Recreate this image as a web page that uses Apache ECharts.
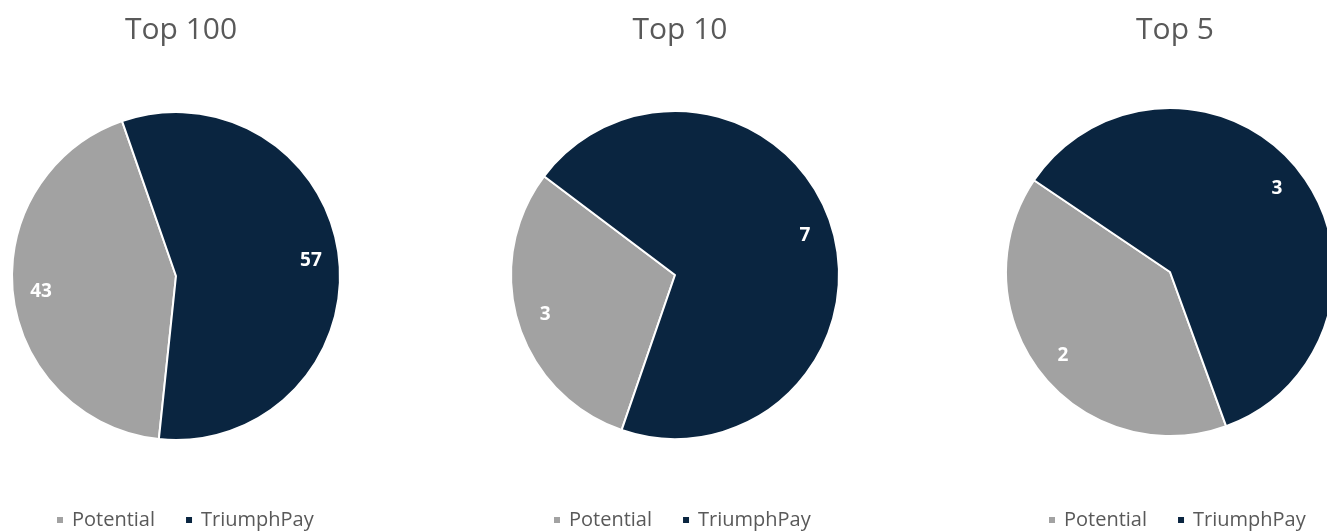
<!DOCTYPE html>
<html>
<head>
<meta charset="utf-8">
<script src="https://cdn.jsdelivr.net/npm/echarts@6/dist/echarts.min.js"></script>
<style>
html,body{margin:0;padding:0;background:#fff;}
#c{width:1327px;height:531px;}
</style>
</head>
<body>
<div id="c"></div>
<script>
const categories = ['Potential', 'TriumphPay'];
const chartTitles = ['Top 100', 'Top 10', 'Top 5'];
const top100Values = [43, 57];
const top10Values = [3, 7];
const top5Values = [2, 3];

const colors = ['#a2a2a2', '#0a2540'];
const centers = [[176, 276], [675, 275], [1170, 272]];
const startAngles = [-96, -109, -70];
const legendLefts = [50, 547, 1042];
const R = 164;
const font = '"Open Sans", "Liberation Sans", sans-serif';

const allValues = [top100Values, top10Values, top5Values];
const series = [];
allValues.forEach((vals, i) => {
  const data = categories.map((n, k) => ({ name: n, value: vals[k], itemStyle: { color: colors[k] } }));
  series.push({
    type: 'pie',
    center: centers[i],
    radius: [0, R],
    startAngle: startAngles[i],
    clockwise: true,
    data: data,
    label: { show: false },
    labelLine: { show: false },
    itemStyle: { borderColor: '#ffffff', borderWidth: 2 },
    emphasis: { disabled: true },
    silent: true
  });
});
allValues.forEach((vals, i) => {
  const data = categories.map((n, k) => ({ name: n, value: vals[k] }));
  series.push({
    type: 'pie',
    center: centers[i],
    radius: [R * 0.62, R],
    startAngle: startAngles[i],
    clockwise: true,
    data: data,
    itemStyle: { color: 'rgba(0,0,0,0)', borderWidth: 0 },
    label: {
      show: true, position: 'inside', formatter: '{c}',
      color: '#ffffff', fontWeight: 'bold', fontSize: 19, fontFamily: font
    },
    labelLine: { show: false },
    emphasis: { disabled: true },
    silent: true
  });
});

const chart = echarts.init(document.getElementById('c'), null, { renderer: 'canvas' });
chart.setOption({
  animation: false,
  backgroundColor: '#ffffff',
  title: chartTitles.map((t, i) => ({
    text: t,
    left: centers[i][0],
    textAlign: 'center',
    top: 10,
    textStyle: { color: '#595959', fontSize: 30, fontWeight: 'normal', fontFamily: font }
  })),
  legend: legendLefts.map((l, i) => ({
    left: l,
    top: 505,
    icon: 'rect',
    itemWidth: 8,
    itemHeight: 8,
    itemGap: 29,
    selectedMode: false,
    data: categories.map((n, k) => ({ name: n, itemStyle: { color: colors[k] } })),
    textStyle: { color: '#595959', fontSize: 20, fontFamily: font, padding: [0, 0, 0, 3] }
  })),
  series: series
});
</script>
</body>
</html>
